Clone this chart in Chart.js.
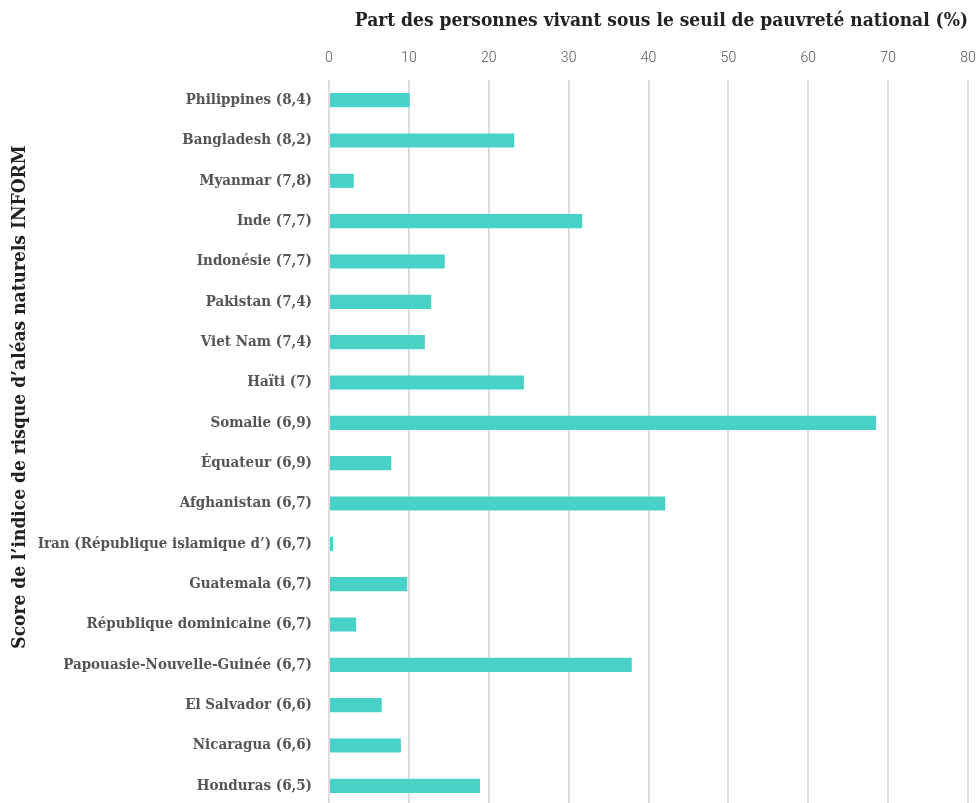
<!DOCTYPE html>
<html lang="fr">
<head>
<meta charset="utf-8">
<script src="https://cdn.jsdelivr.net/npm/chart.js@4/dist/chart.umd.min.js"></script>
<style>
  html, body { margin: 0; padding: 0; background: #fff; overflow: hidden; }
  canvas { display: block; }
</style>
</head>
<body>
<canvas id="povertyChart" width="976" height="806"></canvas>
<script>
const countries = [
  "Philippines (8,4)",
  "Bangladesh (8,2)",
  "Myanmar (7,8)",
  "Inde (7,7)",
  "Indonésie (7,7)",
  "Pakistan (7,4)",
  "Viet Nam (7,4)",
  "Haïti (7)",
  "Somalie (6,9)",
  "Équateur (6,9)",
  "Afghanistan (6,7)",
  "Iran (République islamique d’) (6,7)",
  "Guatemala (6,7)",
  "République dominicaine (6,7)",
  "Papouasie-Nouvelle-Guinée (6,7)",
  "El Salvador (6,6)",
  "Nicaragua (6,6)",
  "Honduras (6,5)",
];
const povertyShare = [10.1, 23.2, 3.1, 31.7, 14.5, 12.8, 12.0, 24.4, 68.5, 7.8, 42.1, 0.5, 9.8, 3.4, 37.9, 6.6, 9.0, 18.9];
const xTicks = [0, 10, 20, 30, 40, 50, 60, 70, 80];

const xTitle = "Part des personnes vivant sous le seuil de pauvreté national (%)";
const yTitle = "Score de l’indice de risque d’aléas naturels INFORM";

const slab = "'DejaVu Serif Condensed', 'DejaVu Serif', serif";

// y title drawn centred on the canvas height, like the original
const sideTitle = {
  id: "sideTitle",
  afterDraw(chart) {
    const ctx = chart.ctx;
    ctx.save();
    ctx.translate(20, 397);
    ctx.rotate(-Math.PI / 2);
    ctx.font = "bold 19px " + slab;
    ctx.fillStyle = "#222";
    ctx.textAlign = "center";
    ctx.textBaseline = "middle";
    ctx.fillText(yTitle, 0, 0);
    ctx.restore();
  },
};

new Chart(document.getElementById("povertyChart"), {
  type: "bar",
  data: {
    labels: countries,
    datasets: [
      {
        label: xTitle,
        data: povertyShare,
        backgroundColor: "#48d1c6",
        borderWidth: 0,
        categoryPercentage: 1,
        barPercentage: 0.35,
      },
    ],
  },
  options: {
    indexAxis: "y",
    responsive: false,
    animation: false,
    layout: { padding: { left: 0, right: 8, top: 0, bottom: 0 } },
    scales: {
      x: {
        position: "top",
        min: 0,
        max: 80,
        afterBuildTicks: (scale) => {
          scale.ticks = xTicks.map((v) => ({ value: v }));
        },
        afterFit: (scale) => {
          scale.height = 80;
          scale.paddingLeft = 0;
          scale.paddingRight = 0;
        },
        grid: { color: "#dddddd", lineWidth: 2, drawTicks: false },
        border: { display: false },
        ticks: {
          padding: 13,
          color: "#555",
          font: { family: "Roboto", weight: 300, size: 14 },
        },
        title: {
          display: true,
          text: xTitle,
          align: "end",
          color: "#222",
          padding: { top: 10, bottom: 0 },
          font: { family: slab, weight: "bold", size: 19 },
        },
      },
      y: {
        afterFit: (scale) => {
          scale.width = 329;
          scale.paddingTop = 0;
          scale.paddingBottom = 0;
        },
        grid: { display: false, drawTicks: false },
        border: { display: false },
        ticks: {
          padding: 17,
          color: "#555",
          font: { family: slab, weight: "bold", size: 15 },
        },
      },
    },
    plugins: {
      legend: { display: false },
      tooltip: { enabled: false },
    },
  },
  plugins: [sideTitle],
});
</script>
</body>
</html>
